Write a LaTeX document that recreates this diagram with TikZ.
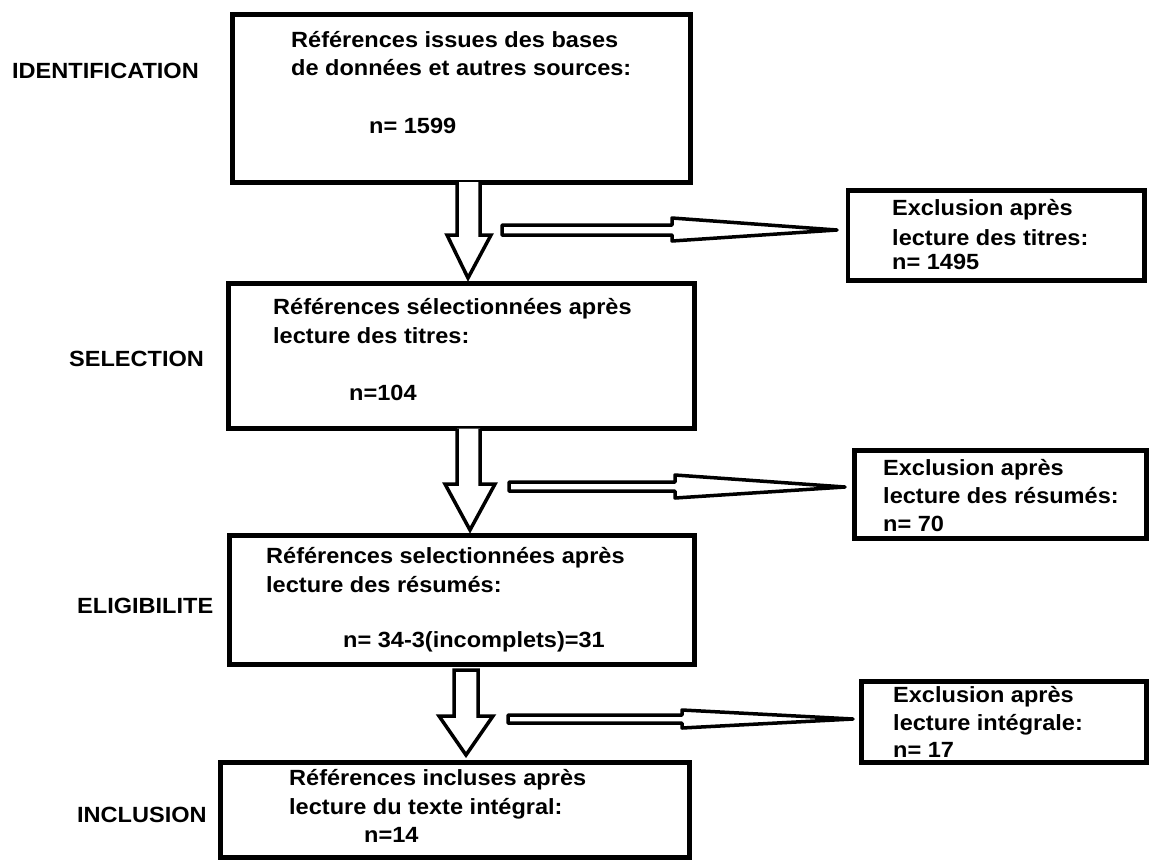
\documentclass[tikz,border=0pt]{standalone}
\usepackage{fontspec}
\setmainfont{Liberation Sans}[FakeStretch=1.07]
\usetikzlibrary{calc}
\begin{document}
\begin{tikzpicture}[x=1pt,y=-1pt,
  box/.style={draw, line width=5, inner sep=0, fill=none},
  ebox/.style={draw, line width=4.5, inner sep=0, fill=none},
  txt/.style={anchor=base west, inner sep=0, font=\bfseries\fontsize{22}{26}\selectfont},
  blk/.style={draw, line width=3.5, fill=white, line join=miter, miter limit=3},
  thin/.style={draw, line width=3.5, fill=white, line join=round}
]
\useasboundingbox (0,0) rectangle (1149,860);
\fill[white] (0,0) rectangle (1149,860);

% main boxes
\path[box] (232.5,14.5) rectangle (690.5,182) node[pos=.5] (b1) {};
\path[box] (228,283.5) rectangle (694,428.5) node[pos=.5] (b2) {};
\path[box] (229,535) rectangle (694,664.5) node[pos=.5] (b3) {};
\path[box] (220,762) rectangle (689.5,857.5) node[pos=.5] (b4) {};

% exclusion boxes
\path[ebox] (848,190.5) rectangle (1144.5,280.5) node[pos=.5] (e1) {};
\path[ebox] (854.5,450.5) rectangle (1146.5,538.5) node[pos=.5] (e2) {};
\path[ebox] (861.5,681.5) rectangle (1146.5,762.5) node[pos=.5] (e3) {};

% down block arrows
\draw[blk] (457,182) -- (457,235) -- (447,235) -- (468,278) -- (491,235) -- (480,235) -- (480,182);
\draw[blk] (457,428.5) -- (457,484) -- (445,484) -- (470,530) -- (495,484) -- (480,484) -- (480,428.5);
\draw[blk] (454,670) -- (454,716) -- (439,716) -- (466,755) -- (493,716) -- (478,716) -- (478,670) -- cycle;

% right thin arrows
\draw[thin] (502,225) -- (672,225) -- (672,218) -- (837,230) -- (672,241) -- (672,235) -- (502,235) -- cycle;
\draw[thin] (509,482) -- (675,482) -- (675,475) -- (845,487) -- (675,498) -- (675,491) -- (509,491) -- cycle;
\draw[thin] (508,715) -- (682,715) -- (682,710) -- (853,719) -- (682,728) -- (682,723) -- (508,723) -- cycle;

% stage labels
\node[txt] (l1) at (12,78) {IDENTIFICATION};
\node[txt] (l2) at (69,366) {SELECTION};
\node[txt] (l3) at (77,613) {ELIGIBILITE};
\node[txt] (l4) at (77,822) {INCLUSION};

% box 1
\node[txt] (t11) at (291,47) {Références issues des bases};
\node[txt] (t12) at (291,75) {de données et autres sources:};
\node[txt] (t13) at (369,133) {n= 1599};
% box 2
\node[txt] (t21) at (273,314) {Références sélectionnées après};
\node[txt] (t22) at (273,343) {lecture des titres:};
\node[txt] (t23) at (349,400) {n=104};
% box 3
\node[txt] (t31) at (266,563) {Références selectionnées après};
\node[txt] (t32) at (266,592) {lecture des résumés:};
\node[txt] (t33) at (343,647) {n= 34-3(incomplets)=31};
% box 4
\node[txt] (t41) at (289,785) {Références incluses après};
\node[txt] (t42) at (289,814) {lecture du texte intégral:};
\node[txt] (t43) at (364,842) {n=14};

% exclusion texts
\node[txt] (u11) at (892,215) {Exclusion après};
\node[txt] (u12) at (892,245) {lecture des titres:};
\node[txt] (u13) at (892,269) {n= 1495};
\node[txt] (u21) at (883,475) {Exclusion après};
\node[txt] (u22) at (883,503) {lecture des résumés:};
\node[txt] (u23) at (883,531) {n= 70};
\node[txt] (u31) at (893,702) {Exclusion après};
\node[txt] (u32) at (893,730) {lecture intégrale:};
\node[txt] (u33) at (893,757) {n= 17};
\end{tikzpicture}
\end{document}
